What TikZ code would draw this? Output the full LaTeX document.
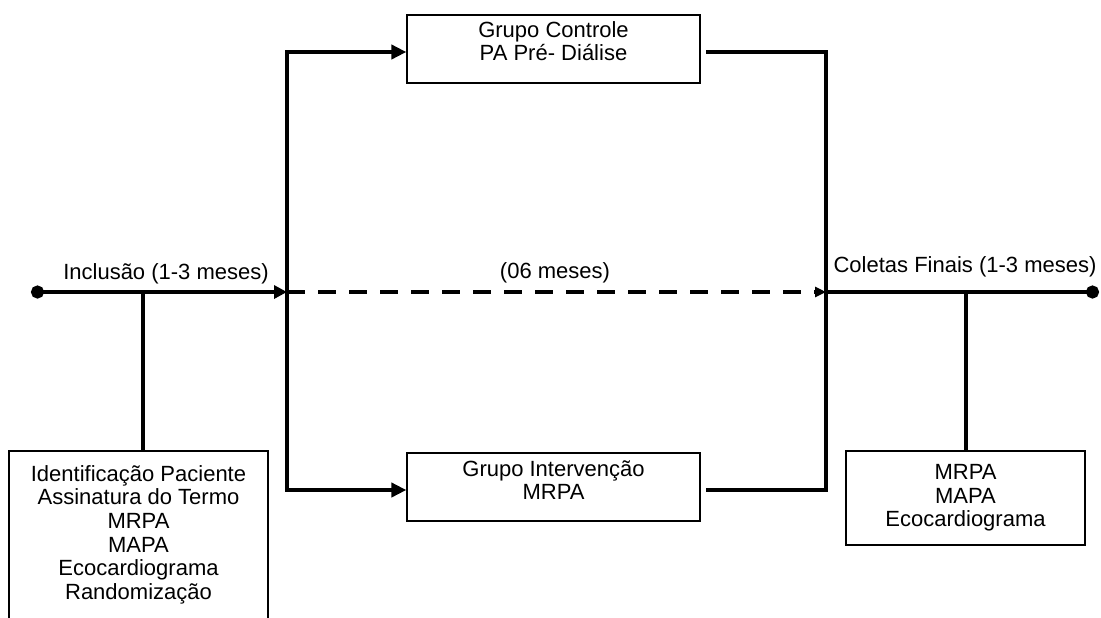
\documentclass[tikz,border=0pt]{standalone}
\usepackage{fontspec}
\setmainfont{Liberation Sans}
\usetikzlibrary{arrows.meta}
\tikzset{
  caixa/.style={draw, line width=0.6pt, inner sep=0pt, minimum width=146.5pt, minimum height=34pt, align=center, font=\fontsize{11}{11.8}\selectfont},
  rotulo/.style={inner sep=0pt, font=\fontsize{11}{11.8}\selectfont},
  linha/.style={line width=2pt},
  seta/.style={-{Triangle[length=7.5pt,width=7pt]}}
}
\begin{document}
\begin{tikzpicture}[x=0.5pt,y=-0.5pt]
        \useasboundingbox (0,0) rectangle (1101,617);
        \coordinate (ini) at (31,292);
        \coordinate (fim) at (1099,292);
        \coordinate (div) at (287,292);
        \coordinate (jun) at (826,292);
        \coordinate (cima) at (287,52);
        \coordinate (baixo) at (287,490);
        \coordinate (sai1) at (706,52);
        \coordinate (sai2) at (706,490);
        \coordinate (ramo) at (143,292);
        \coordinate (topo) at (143,451);

        \node[caixa, text depth=8pt] (ctrl) at (553.5,49) {Grupo Controle\\PA Pré- Diálise};
        \node[caixa, text depth=7pt] (interv) at (553.5,487) {Grupo Intervenção\\MRPA};
        \node[caixa, minimum width=119.5pt, minimum height=47pt] (final) at (965.5,498) {MRPA\\MAPA\\Ecocardiograma};
        \node[rotulo, anchor=north, align=center] (incl) at (138.5,465) {Identificação Paciente\\Assinatura do Termo\\MRPA\\MAPA\\Ecocardiograma\\Randomização};
        \draw[line width=0.6pt] (9,640) |- (268,451) -- (268,640);

        \node[rotulo, anchor=base] (t1) at (166,279) {Inclusão (1-3 meses)};
        \node[rotulo, anchor=base] (t2) at (555,278) {(06 meses)};
        \node[rotulo, anchor=base] (t3) at (965,272) {Coletas Finais (1-3 meses)};

        \draw[linha, {Circle[length=6.5pt]}-{Triangle[length=6.5pt,width=6.5pt]}] (ini) -- (div);
        \draw[linha, dash pattern=on 9pt off 6.5pt, -{Triangle[length=5.5pt,width=5pt]}] (div) -- (jun);
        \draw[linha, -{Circle[length=6.5pt]}] (jun) -- (fim);

        \draw[linha, seta] (div) -- (cima) -- (cima -| ctrl.west);
        \draw[linha, seta] (div) -- (baixo) -- (baixo -| interv.west);
        \draw[linha] (sai1) -| (jun) |- (sai2);

        \draw[linha] (ramo) -- (topo);
        \draw[linha] (final.north |- jun) -- (final.north);
      \end{tikzpicture}
\end{document}
